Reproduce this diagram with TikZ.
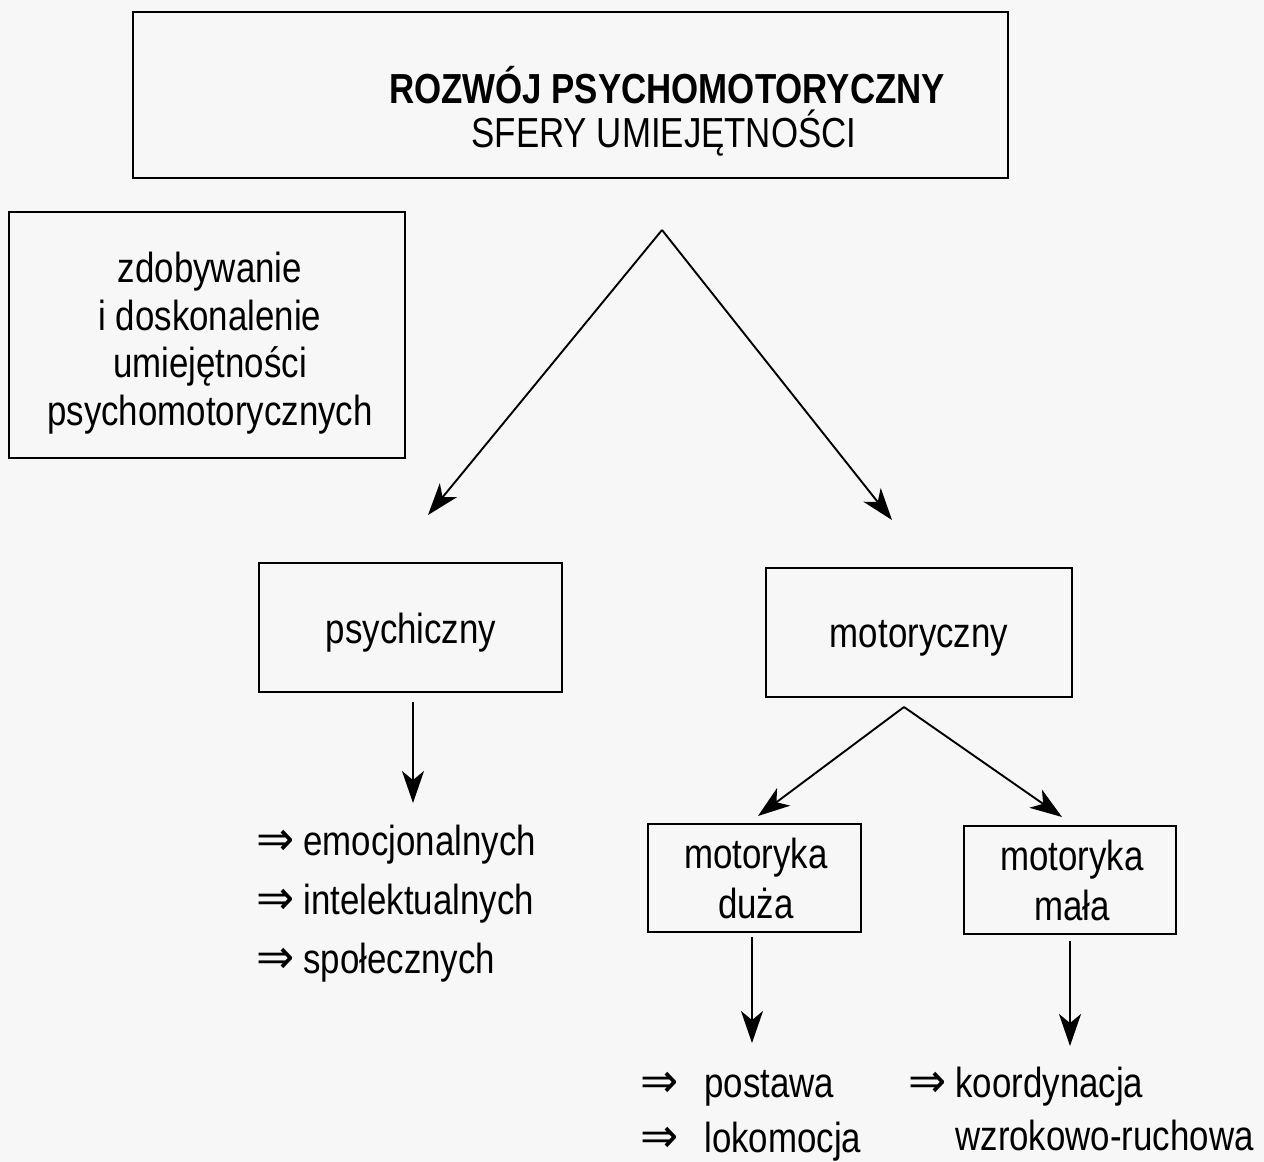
\documentclass[tikz,border=0pt]{standalone}
\usepackage{fontspec}
\setmainfont[FakeStretch=0.83]{Liberation Sans}
\newfontfamily\arrfont[FakeStretch=0.95]{DejaVu Sans}
\usetikzlibrary{arrows.meta}
\newcommand\impl{{\arrfont\fontsize{24}{24}\selectfont ⇒}}
\tikzset{
  box/.style={draw, line width=1.4pt, inner sep=0pt},
  lbl/.style={anchor=base, inner sep=0pt, font=\fontsize{21}{24}\selectfont},
  lst/.style={anchor=base west, inner sep=0pt, font=\fontsize{21}{24}\selectfont},
  arr/.style={-{Stealth[length=16pt,width=11pt,inset=4.5pt]}, line width=0.95pt},
}
\begin{document}
\begin{tikzpicture}[x=0.5pt,y=-0.5pt]
\useasboundingbox[fill=black!3] (0,0) rectangle (1264,1162);

% boxes
\node[box, minimum width=437.5pt, minimum height=83pt] (title) at (570.5,95) {};
\node[box, minimum width=198pt, minimum height=123pt] (left) at (207,335) {};
\node[box, minimum width=151.5pt, minimum height=64.5pt] (psy) at (410.5,627.5) {};
\node[box, minimum width=153pt, minimum height=64.5pt] (mot) at (919,632.5) {};
\node[box, minimum width=106.5pt, minimum height=54pt] (duza) at (754.5,878) {};
\node[box, minimum width=106pt, minimum height=54pt] (mala) at (1070,880) {};

% texts
\node[lbl, font=\fontsize{21}{24}\selectfont\bfseries] (t1) at (667,103) {ROZWÓJ PSYCHOMOTORYCZNY};
\node[lbl] (t2) at (664,147) {SFERY UMIEJĘTNOŚCI};

\node[lbl] (l1) at (210,282) {zdobywanie};
\node[lbl] (l2) at (210,330) {i doskonalenie};
\node[lbl] (l3) at (210,377) {umiejętności};
\node[lbl] (l4) at (210,425) {psychomotorycznych};

\node[lbl] (psyt) at (411,643) {psychiczny};
\node[lbl] (mott) at (919,647) {motoryczny};

\node[lbl] (d1) at (756,868) {motoryka};
\node[lbl] (d2) at (756,918) {duża};
\node[lbl] (m1) at (1072,870) {motoryka};
\node[lbl] (m2) at (1072,920) {mała};

\node[lst] (e1) at (256,855) {\makebox[23.5pt][l]{\impl}emocjonalnych};
\node[lst] (e2) at (256,914) {\makebox[23.5pt][l]{\impl}intelektualnych};
\node[lst] (e3) at (256,973) {\makebox[23.5pt][l]{\impl}społecznych};

\node[lst] (p1) at (640,1097) {\makebox[32pt][l]{\impl}postawa};
\node[lst] (p2) at (640,1152) {\makebox[32pt][l]{\impl}lokomocja};
\node[lst] (k1) at (908,1097) {\makebox[23.5pt][l]{\impl}koordynacja};
\node[lst] (k2) at (955,1150) {wzrokowo-ruchowa};

% connector points
\coordinate (apexA) at (662,230);
\coordinate (tipA1) at (428,515);
\coordinate (tipA2) at (892,520);
\coordinate (apexB) at (904,707);
\coordinate (tipB1) at (758,816);
\coordinate (tipB2) at (1062,817);
\coordinate (psyS) at (413,702);
\coordinate (psyT) at (413,803);
\coordinate (duzaS) at (752,937);
\coordinate (duzaT) at (752,1043);
\coordinate (malaS) at (1070,941);
\coordinate (malaT) at (1070,1046);

\draw[arr] (apexA) -- (tipA1);
\draw[arr] (apexA) -- (tipA2);
\draw[arr] (apexB) -- (tipB1);
\draw[arr] (apexB) -- (tipB2);
\draw[arr] (psyS) -- (psyT);
\draw[arr] (duzaS) -- (duzaT);
\draw[arr] (malaS) -- (malaT);
\end{tikzpicture}
\end{document}
